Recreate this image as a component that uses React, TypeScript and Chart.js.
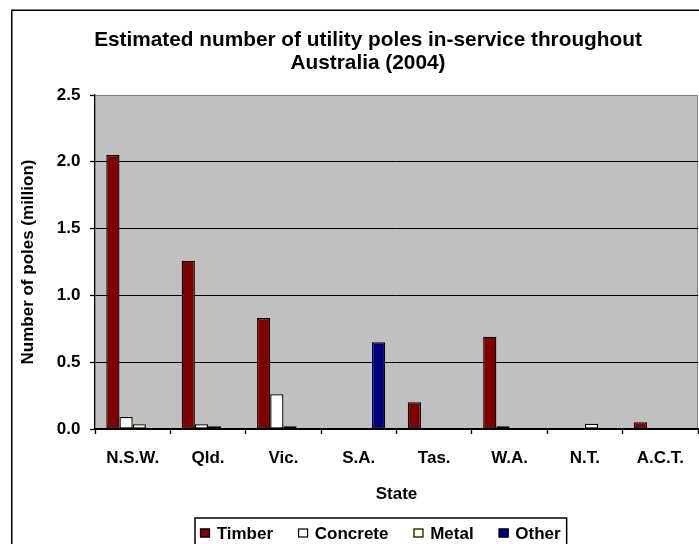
import React, { useEffect, useRef } from "react";
import { Chart, registerables } from "chart.js";

Chart.register(...registerables);

const categories = ["N.S.W.", "Qld.", "Vic.", "S.A.", "Tas.", "W.A.", "N.T.", "A.C.T."];
const timber = [2.05, 1.26, 0.83, 0, 0.2, 0.69, 0, 0.05];
const concrete = [0.09, 0.035, 0.26, 0, 0, 0.02, 0, 0.003];
const metal = [0.035, 0.02, 0.02, 0, 0.003, 0, 0.04, 0];
const other = [0, 0, 0.003, 0.65, 0.003, 0, 0, 0];
const seriesNames = ["Timber", "Concrete", "Metal", "Other"];
const seriesColors = ["#800000", "#FFFFFF", "#FFFFCC", "#000080"];
const titleLines = ["Estimated number of utility poles in-service throughout", "Australia (2004)"];
const xTitle = "State";
const yTitle = "Number of poles (million)";
const yMax = 2.5;
const yStep = 0.5;

const FAMILY = "'Liberation Sans', Arial, Helvetica, sans-serif";

const decor = {
  id: "decor",
  beforeDraw(chart: any) {
    const { ctx, chartArea: a } = chart;
    ctx.save();
    ctx.fillStyle = "#C0C0C0";
    ctx.fillRect(a.left, a.top, a.right - a.left, a.bottom - a.top);
    ctx.strokeStyle = "#808080";
    ctx.lineWidth = 1;
    ctx.beginPath();
    ctx.moveTo(a.left, a.top + 0.5);
    ctx.lineTo(a.right - 0.5, a.top + 0.5);
    ctx.lineTo(a.right - 0.5, a.bottom);
    ctx.stroke();
    ctx.restore();
  },
  afterDraw(chart: any) {
    const { ctx } = chart;
    ctx.save();
    // outer frame
    ctx.strokeStyle = "#000";
    ctx.lineWidth = 1.5;
    ctx.strokeRect(11.75, 10.25, 800, 700);
    // title
    ctx.fillStyle = "#000";
    ctx.font = `bold 20.8px ${FAMILY}`;
    ctx.textAlign = "center";
    ctx.textBaseline = "middle";
    titleLines.forEach((line, i) => ctx.fillText(line, 368, 40 + i * 23));
    // legend
    ctx.font = `bold 17px ${FAMILY}`;
    ctx.textAlign = "left";
    let x = 200;
    const items: { x: number; tx: number; w: number }[] = [];
    chart.data.datasets.forEach((ds: any) => {
      const w = ctx.measureText(ds.label).width;
      items.push({ x, tx: x + 16.7, w });
      x += 16.7 + w + 25;
    });
    const right = items[items.length - 1].tx + items[items.length - 1].w + 6;
    ctx.lineWidth = 1.5;
    ctx.strokeRect(195, 518, right - 195, 60);
    chart.data.datasets.forEach((ds: any, i: number) => {
      const it = items[i];
      ctx.fillStyle = ds.backgroundColor;
      ctx.fillRect(it.x, 528.5, 10, 9);
      ctx.lineWidth = 1.2;
      ctx.strokeStyle = "#000";
      ctx.strokeRect(it.x + 0.5, 529, 9, 8);
      ctx.fillStyle = "#000";
      ctx.fillText(ds.label, it.tx, 534);
    });
    ctx.restore();
  },
};

export default function App() {
  const ref = useRef<HTMLCanvasElement | null>(null);
  useEffect(() => {
    if (!ref.current) return;
    const values = [timber, concrete, metal, other];
    const chart = new Chart(ref.current, {
      type: "bar",
      data: {
        labels: categories,
        datasets: seriesNames.map((name, i) => ({
          label: name,
          data: values[i],
          backgroundColor: seriesColors[i],
          borderColor: "#000",
          borderWidth: 1.3,
          borderSkipped: false,
          categoryPercentage: 0.7,
          barPercentage: 1,
        })),
      },
      options: {
        animation: false,
        responsive: false,
        maintainAspectRatio: false,
        devicePixelRatio: 1,
        layout: { padding: { left: 11, top: 95, right: 1, bottom: 15 } },
        plugins: {
          legend: { display: false },
          title: { display: false },
          tooltip: { enabled: false },
        },
        scales: {
          x: {
            grid: {
              display: true,
              drawOnChartArea: false,
              drawTicks: true,
              tickLength: 5,
              tickColor: "#000",
              tickWidth: 1.3,
              offset: true,
            },
            border: { display: true, color: "#000", width: 1.3 },
            ticks: {
              color: "#000",
              font: { family: FAMILY, size: 17, weight: "bold" },
              padding: 14,
              maxRotation: 0,
              autoSkip: false,
            },
            title: {
              display: true,
              text: xTitle,
              color: "#000",
              font: { family: FAMILY, size: 17, weight: "bold" },
              padding: { top: 0, bottom: 24 },
            },
            afterFit: (s: any) => {
              s.height = 100;
            },
          },
          y: {
            min: 0,
            max: yMax,
            ticks: {
              stepSize: yStep,
              callback: (v: any) => Number(v).toFixed(1),
              color: "#000",
              font: { family: FAMILY, size: 17, weight: "bold" },
              padding: 9.5,
            },
            grid: {
              color: (c: any) => (c.tick && c.tick.value >= yMax ? "#808080" : "#000"),
              tickColor: "#000",
              tickLength: 5,
              lineWidth: 1,
              tickWidth: 1.3,
            },
            border: { display: true, color: "#000", width: 1.3 },
            title: {
              display: true,
              text: yTitle,
              color: "#000",
              font: { family: FAMILY, size: 17, weight: "bold" },
              padding: { top: 7, bottom: 0 },
            },
            afterFit: (s: any) => {
              s.width = 84;
            },
          },
        },
      },
      plugins: [decor],
    } as any);
    return () => chart.destroy();
  }, []);
  return (
    <div style={{ position: "fixed", left: 0, top: 0, width: 699, height: 544, background: "#fff", overflow: "hidden" }}>
      <canvas ref={ref} width={699} height={544} style={{ display: "block" }} />
    </div>
  );
}
